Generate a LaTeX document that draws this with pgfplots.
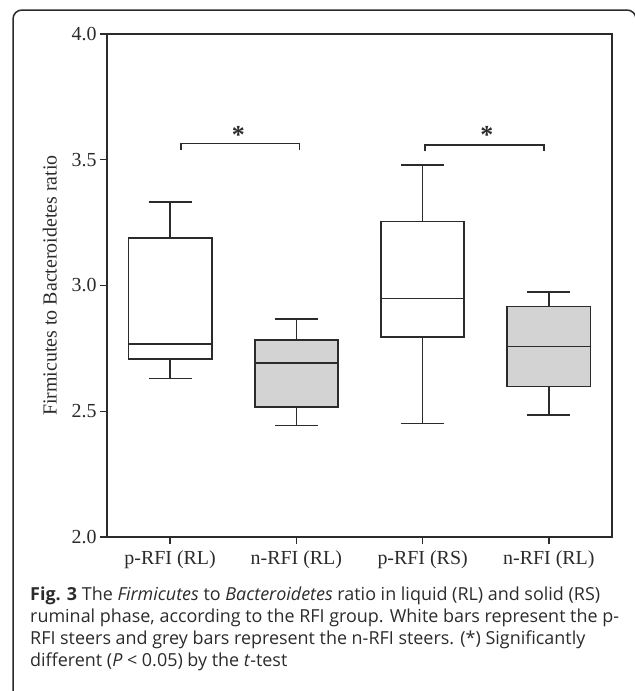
\documentclass[border=0pt]{standalone}
\usepackage{fontspec}
\setmainfont{Liberation Serif}
\newfontfamily\capfont{Open Sans}
\usepackage{pgfplots}
\pgfplotsset{compat=1.18}
\usepgfplotslibrary{statistics}
\definecolor{boxgrey}{HTML}{D3D3D3}
\definecolor{inkline}{HTML}{2B2B2B}

\begin{document}
\begin{tikzpicture}
\useasboundingbox (0bp,0bp) rectangle (635bp,-691bp);
\begin{scope}
  \clip (0bp,0bp) rectangle (635bp,-691bp);
  \draw[inkline, line width=1.5bp, rounded corners=9bp]
    (13bp,-720bp) -- (13bp,-10bp) -- (636bp,-10bp) -- (636bp,-720bp);
\end{scope}

\begin{axis}[
    at={(107bp,-537bp)}, anchor=south west,
    scale only axis, width=505bp, height=503bp,
    xmin=0.5, xmax=4.5, ymin=2, ymax=4,
    clip=false,
    axis line style={inkline, line width=1.4bp},
    tick style={inkline, line width=1.4bp},
    tick align=outside, major tick length=7bp,
    xtick pos=bottom, ytick pos=left,
    xtick={1,2,3,4},
    xticklabels={p-RFI (RL), n-RFI (RL), p-RFI (RS), n-RFI (RL)},
    xticklabel style={yshift=-3bp},
    ytick={2,2.5,3,3.5,4},
    yticklabel style={/pgf/number format/fixed, /pgf/number format/fixed zerofill, /pgf/number format/precision=1},
    /pgf/number format/assume math mode=true,
    ticklabel style={font=\fontsize{20}{24}\selectfont, text=inkline},
    ylabel={Firmicutes to Bacteroidetes ratio},
    ylabel style={font=\fontsize{20}{24}\selectfont, text=inkline,
                  at={(axis description cs:-0.113,0.5)}, anchor=center},
    boxplot/draw direction=y,
]

% p-RFI (RL)
\addplot[boxplot prepared={draw position=1, lower whisker=2.631, lower quartile=2.708,
    median=2.767, upper quartile=3.190, upper whisker=3.333, box extend=0.66, whisker extend=0.34},
    draw=inkline, fill=white, line width=1.6bp] coordinates {};
% n-RFI (RL)
\addplot[boxplot prepared={draw position=2, lower whisker=2.444, lower quartile=2.516,
    median=2.693, upper quartile=2.783, upper whisker=2.866, box extend=0.66, whisker extend=0.34},
    draw=inkline, fill=boxgrey, line width=1.6bp] coordinates {};
% p-RFI (RS)
\addplot[boxplot prepared={draw position=3, lower whisker=2.452, lower quartile=2.796,
    median=2.949, upper quartile=3.254, upper whisker=3.479, box extend=0.66, whisker extend=0.34},
    draw=inkline, fill=white, line width=1.6bp] coordinates {};
% n-RFI (RL)
\addplot[boxplot prepared={draw position=4, lower whisker=2.485, lower quartile=2.598,
    median=2.757, upper quartile=2.916, upper whisker=2.974, box extend=0.66, whisker extend=0.34},
    draw=inkline, fill=boxgrey, line width=1.6bp] coordinates {};

% significance brackets
\addplot[inkline, line width=1.4bp] coordinates {(1.087,3.539) (1.087,3.565) (2.024,3.565) (2.024,3.539)};
\addplot[inkline, line width=1.4bp] coordinates {(3.02,3.533) (3.02,3.559) (3.96,3.559) (3.96,3.533)};
\node[font=\fontsize{26}{28}\selectfont\bfseries, text=inkline] at (axis cs:1.54,3.598) {*};
\node[font=\fontsize{26}{28}\selectfont\bfseries, text=inkline] at (axis cs:3.508,3.598) {*};

\end{axis}

\node[anchor=north west, inner sep=0pt, align=left, text=inkline,
      font=\capfont\fontsize{18}{22}\selectfont] at (30bp,-587bp)
  {\textbf{Fig. 3} The \textit{Firmicutes} to \textit{Bacteroidetes} ratio in liquid (RL) and solid (RS)\\
   ruminal phase, according to the RFI group. White bars represent the p-\\
   RFI steers and grey bars represent the n-RFI steers. (*) Significantly\\
   different (\textit{P} < 0.05) by the \textit{t}-test};
\end{tikzpicture}
\end{document}
